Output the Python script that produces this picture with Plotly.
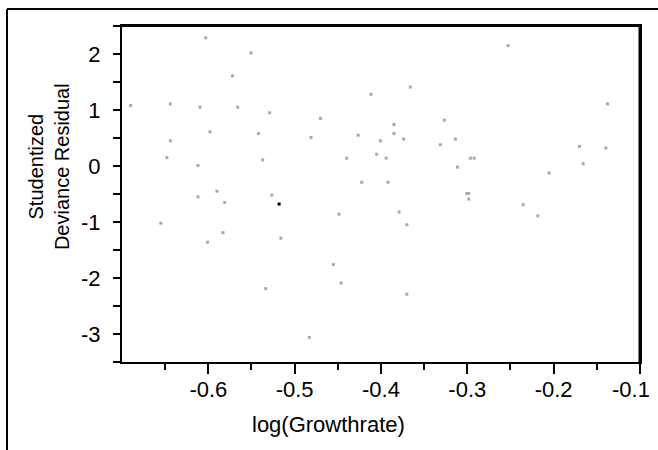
import plotly.graph_objects as go

# log(Growthrate) values (gray points)
x_vals = [-0.690, -0.603, -0.5505, -0.572, -0.644, -0.6096, -0.566, -0.529, -0.470, -0.598,
          -0.542, -0.481, -0.644, -0.648, -0.537, -0.612, -0.612, -0.590, -0.581, -0.5265,
          -0.655, -0.601, -0.583, -0.516, -0.5335, -0.483, -0.2527, -0.366, -0.4115, -0.1376,
          -0.3265, -0.385, -0.385, -0.4265, -0.3737, -0.3138, -0.4007, -0.3312, -0.170, -0.1395,
          -0.405, -0.4397, -0.394, -0.2964, -0.2921, -0.1658, -0.3115, -0.2052, -0.4223, -0.3918,
          -0.3006, -0.2983, -0.2983, -0.2353, -0.2183, -0.379, -0.4486, -0.370, -0.4551, -0.4462,
          -0.370]
# Studentized deviance residuals (gray points)
y_vals = [1.08, 2.29, 2.02, 1.61, 1.11, 1.05, 1.05, 0.95, 0.85, 0.61,
          0.58, 0.51, 0.45, 0.15, 0.11, 0.01, -0.55, -0.45, -0.65, -0.52,
          -1.02, -1.36, -1.19, -1.29, -2.19, -3.06, 2.15, 1.41, 1.28, 1.11,
          0.82, 0.74, 0.58, 0.55, 0.48, 0.48, 0.45, 0.38, 0.35, 0.32,
          0.21, 0.14, 0.14, 0.14, 0.14, 0.04, -0.02, -0.125, -0.29, -0.29,
          -0.49, -0.49, -0.59, -0.69, -0.89, -0.82, -0.86, -1.05, -1.76, -2.09,
          -2.29]
# highlighted (black) point
hl_x = [-0.518]
hl_y = [-0.68]

x_ticks = [-0.6, -0.5, -0.4, -0.3, -0.2, -0.1]
x_tick_labels = ["-0.6", "-0.5", "-0.4", "-0.3", "-0.2", ""]
last_x_tick = -0.1
last_x_label = "-0.1"
x_minor = [-0.65, -0.55, -0.45, -0.35, -0.25, -0.15]
y_ticks = [-3, -2, -1, 0, 1, 2]
y_tick_labels = ["-3", "-2", "-1", "0", "1", "2"]
y_minor = [-3.5, -2.5, -1.5, -0.5, 0.5, 1.5, 2.5]

FONT = "Liberation Sans, Arial, sans-serif"

fig = go.Figure()
fig.add_trace(go.Scatter(x=x_vals, y=y_vals, mode="markers",
                         marker=dict(symbol="square", size=3, color="#a9a9a9",
                                     line=dict(width=0)),
                         showlegend=False, hoverinfo="x+y"))
fig.add_trace(go.Scatter(x=hl_x, y=hl_y, mode="markers",
                         marker=dict(symbol="square", size=3, color="#000000",
                                     line=dict(width=0)),
                         showlegend=False, hoverinfo="x+y"))

fig.update_layout(
    width=658, height=450,
    margin=dict(l=122, r=18, t=26, b=88, autoexpand=False),
    paper_bgcolor="white", plot_bgcolor="white",
    font=dict(family=FONT, size=22, color="black"),
    xaxis=dict(range=[-0.7, -0.09995], tickvals=x_ticks, ticktext=x_tick_labels,
               showgrid=False, zeroline=False, showline=True, linecolor="black",
               linewidth=2, mirror=True, ticks="outside", ticklen=10, tickwidth=2,
               tickcolor="black", ticklabelstandoff=-3, automargin=False,
               tickfont=dict(family=FONT, size=22, color="black"),
               minor=dict(tickvals=x_minor, ticks="outside", ticklen=6,
                          tickwidth=2, tickcolor="black", showgrid=False)),
    yaxis=dict(range=[-3.5, 2.5], tickvals=y_ticks, ticktext=y_tick_labels,
               showgrid=False, zeroline=False, showline=True, linecolor="black",
               linewidth=2, mirror=True, ticks="outside", ticklen=7, tickwidth=2,
               tickcolor="black", ticklabelstandoff=8, automargin=False,
               tickfont=dict(family=FONT, size=22, color="black"),
               minor=dict(tickvals=y_minor, ticks="outside", ticklen=7,
                          tickwidth=2, tickcolor="black", showgrid=False)),
    annotations=[
        dict(text=last_x_label, xref="x", yref="paper", x=last_x_tick, xshift=-9,
             y=-0.0833, xanchor="center", yanchor="middle", showarrow=False,
             font=dict(family=FONT, size=22, color="black")),
        dict(text="log(Growthrate)", xref="paper", yref="paper",
             x=0.3996, y=-0.186, xanchor="center", yanchor="middle",
             showarrow=False, font=dict(family=FONT, size=22, color="black")),
        dict(text="Studentized<br>Deviance Residual", xref="paper", yref="paper",
             x=-0.141, y=0.583, xanchor="center", yanchor="middle", textangle=-90,
             showarrow=False, font=dict(family=FONT, size=20, color="black")),
    ],
    shapes=[
        # outer frame
        dict(type="line", xref="paper", yref="paper", x0=-0.222, x1=1.04,
             y0=1.0506, y1=1.0506, line=dict(color="black", width=2)),
        dict(type="line", xref="paper", yref="paper", x0=-0.222, x1=-0.222,
             y0=1.0506, y1=-0.27, line=dict(color="black", width=2)),
        # plot frame top and right
        dict(type="line", xref="paper", yref="paper", x0=-0.0097, x1=1.0,
             y0=1.0, y1=1.0, line=dict(color="black", width=2)),
        dict(type="line", xref="paper", yref="paper", x0=1.0, x1=1.0,
             y0=0.0, y1=1.0, line=dict(color="black", width=3)),
    ],
)

fig.write_html("out.html",
               config={"displayModeBar": False},
               post_script="document.body.style.margin='0px';"
                           "document.body.style.overflow='hidden';")
